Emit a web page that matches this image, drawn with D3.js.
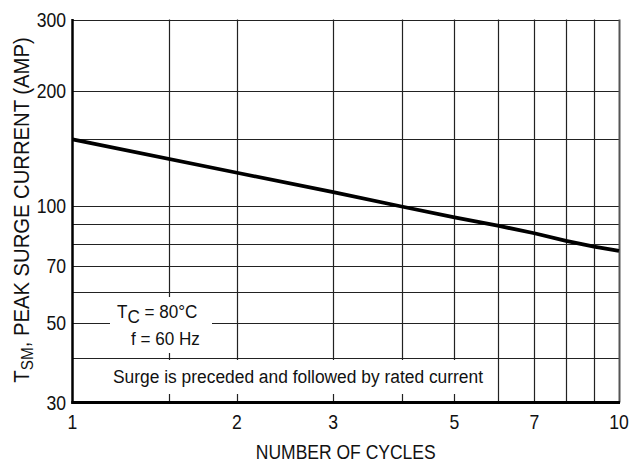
<!DOCTYPE html>
<html>
<head>
<meta charset="utf-8">
<script src="https://cdn.jsdelivr.net/npm/d3@7/dist/d3.min.js"></script>
<style>
  html, body { margin: 0; padding: 0; background: #fff; }
  svg { display: block; }
  text { font-family: "Liberation Sans", Arial, sans-serif; fill: #111; }
</style>
</head>
<body>
<svg id="chart" width="631" height="464"></svg>
<script>
// ---- data ----
const cycles = [1, 2, 3, 4, 5, 6, 7, 8, 9, 10];
const surgeCurrent = [149.5, 122.2, 108.7, 99.7, 93.5, 89, 85.1, 81.3, 78.6, 76.6];
const xGrid = [1.5, 2, 3, 4, 5, 6, 7, 8, 9, 10];
const yGrid = [40, 50, 60, 70, 80, 90, 100, 150, 200, 300];
const xTickLabels = [1, 2, 3, 5, 7, 10];
const yTickLabels = [30, 50, 70, 100, 200, 300];
const xTitle = "NUMBER OF CYCLES";
const yTitleParts = ["T", "SM", ", PEAK SURGE CURRENT (AMP)"];
const noteLine1 = ["T", "C", " = 80°C"];
const noteLine2 = "f = 60 Hz";
const noteSurge = "Surge is preceded and followed by rated current";

// ---- layout ----
const svg = d3.select("#chart");
const L = 72.5, R = 619, T = 19.5, B = 402.5;
const x = d3.scaleLog().domain([1, 10]).range([L, R]);
const y = d3.scaleLog().domain([30, 50, 100, 200, 300]).range([B, 323, 206, 91, T]);

// condensed text helper
function ctext(sel, px, py, size, sx, anchor) {
  return sel.append("text")
    .attr("transform", `translate(${px},${py}) scale(${sx},1)`)
    .attr("font-size", size).attr("text-anchor", anchor || "start");
}

// grid
svg.append("g").selectAll("line").data(yGrid).join("line")
  .attr("x1", L).attr("x2", R)
  .attr("y1", d => Math.round(y(d)) + 0.5).attr("y2", d => Math.round(y(d)) + 0.5)
  .attr("stroke", "#222").attr("stroke-width", 1.2);
svg.append("g").selectAll("line").data(xGrid).join("line")
  .attr("y1", T).attr("y2", B)
  .attr("x1", d => Math.round(x(d)) + 0.5).attr("x2", d => Math.round(x(d)) + 0.5)
  .attr("stroke", d => d === 10 ? "#555" : "#222").attr("stroke-width", d => d === 10 ? 2 : 1.2);

// white boxes behind notes
svg.append("rect").attr("x", 110).attr("y", 297).attr("width", 102).attr("height", 56).attr("fill", "#fff");
svg.append("rect").attr("x", 106).attr("y", 360).attr("width", 384).attr("height", 34).attr("fill", "#fff");

// axes (thick left & bottom)
svg.append("line").attr("x1", L).attr("x2", L).attr("y1", T - 0.5).attr("y2", B + 1.2)
  .attr("stroke", "#000").attr("stroke-width", 2.5);
svg.append("line").attr("x1", L - 1.2).attr("x2", R + 1).attr("y1", B).attr("y2", B)
  .attr("stroke", "#000").attr("stroke-width", 2.8);

// curve
const line = d3.line().x((d, i) => x(cycles[i])).y(d => y(d));
svg.append("path").datum(surgeCurrent).attr("d", line)
  .attr("fill", "none").attr("stroke", "#000").attr("stroke-width", 3.8);

// tick labels
yTickLabels.forEach(v => {
  ctext(svg, 66, y(v) + 7, 20, 0.88, "end").text(v);
});
xTickLabels.forEach(v => {
  ctext(svg, x(v), 428.5, 20, 0.88, "middle").text(v);
});

// axis titles
ctext(svg, (L + R) / 2, 459, 20, 0.875, "middle").text(xTitle);
const yt = svg.append("text")
  .attr("transform", "translate(28.5,210) rotate(-90) scale(0.9,1)")
  .attr("text-anchor", "middle").attr("font-size", 22.5);
yt.append("tspan").text(yTitleParts[0]);
yt.append("tspan").attr("font-size", 17).attr("dy", 4.5).text(yTitleParts[1]);
yt.append("tspan").attr("dy", -4.5).text(yTitleParts[2]);

// notes
const n1 = ctext(svg, 117, 318, 19, 0.9);
n1.append("tspan").text(noteLine1[0]);
n1.append("tspan").attr("dy", 5).text(noteLine1[1]);
n1.append("tspan").attr("dy", -5).text(noteLine1[2]);
ctext(svg, 131, 345, 19, 0.9).text(noteLine2);
ctext(svg, 113, 383, 19, 0.915).text(noteSurge);
</script>
</body>
</html>
